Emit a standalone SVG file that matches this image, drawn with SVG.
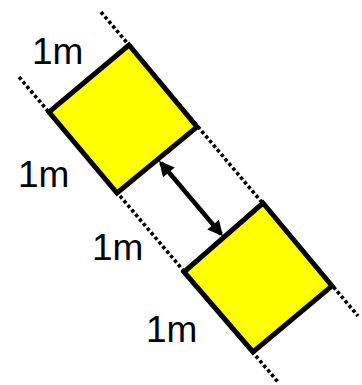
<svg xmlns="http://www.w3.org/2000/svg" width="362" height="385" viewBox="0 0 362 385">
<style>
.sq{fill:#ffff00;stroke:#000;stroke-width:5;stroke-linejoin:miter}
.guide{stroke:#000;stroke-width:3.6;stroke-dasharray:3.4 2.6;fill:none}
.lbl{font-family:"Liberation Sans",Arial,sans-serif;font-size:37px;fill:#000}
.arr{stroke:#000;stroke-width:4.5;fill:none}
</style>
<defs>
<marker id="ah" viewBox="0 0 10 10" refX="8" refY="5" markerWidth="3.8" markerHeight="3.4" orient="auto-start-reverse" markerUnits="strokeWidth">
<path d="M0,0 L10,5 L0,10 z" fill="#000"/>
</marker>
</defs>
<rect width="362" height="385" fill="#fff"/>
<g id="guides">
<line class="guide" x1="101" y1="12" x2="358" y2="316"/>
<line class="guide" x1="19" y1="77" x2="278" y2="382"/>
</g>
<g id="square1">
<polygon class="sq" points="129,45 197,127 117,193 49,112"/>
</g>
<g id="square2">
<polygon class="sq" points="263,203 332,286 253,352 184,272"/>
</g>
<g id="connectors">
<line class="arr" x1="161" y1="163" x2="221" y2="234" marker-start="url(#ah)" marker-end="url(#ah)"/>
</g>
<g id="labels">
<text class="lbl" x="32" y="64">1m</text>
<text class="lbl" x="18" y="187">1m</text>
<text class="lbl" x="92" y="260">1m</text>
<text class="lbl" x="146" y="342">1m</text>
</g>
</svg>
